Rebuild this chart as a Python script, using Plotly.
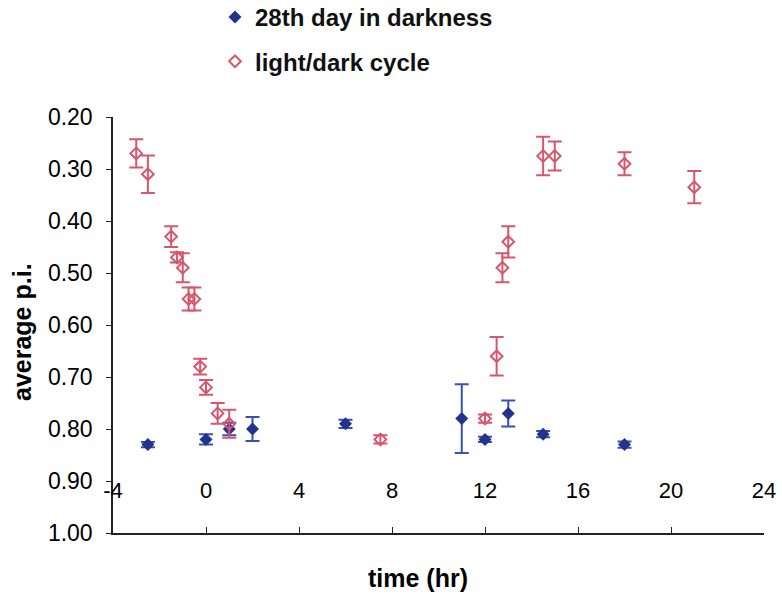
import plotly.graph_objects as go

# light/dark cycle (open diamonds)
ld_x = [-3, -2.5, -1.5, -1.25, -1, -0.75, -0.5, -0.25, 0, 0.5, 1, 7.5, 12, 12.5, 12.75, 13, 14.5, 15, 18, 21]
ld_y = [0.27, 0.31, 0.43, 0.47, 0.49, 0.55, 0.55, 0.68, 0.72, 0.77, 0.79, 0.82, 0.78, 0.66, 0.49, 0.44, 0.275, 0.275, 0.29, 0.335]
ld_err = [0.027, 0.036, 0.02, 0.01, 0.028, 0.022, 0.022, 0.015, 0.014, 0.02, 0.027, 0.008, 0.008, 0.037, 0.028, 0.03, 0.037, 0.028, 0.022, 0.031]

# 28th day in darkness (filled diamonds)
dd_x = [-2.5, 0, 1, 2, 6, 11, 12, 13, 14.5, 18]
dd_y = [0.83, 0.82, 0.80, 0.80, 0.79, 0.78, 0.82, 0.77, 0.81, 0.83]
dd_err = [0.005, 0.01, 0.012, 0.023, 0.008, 0.066, 0.005, 0.025, 0.006, 0.006]

x_ticks = [-4, 0, 4, 8, 12, 16, 20, 24]
y_ticks = [0.20, 0.30, 0.40, 0.50, 0.60, 0.70, 0.80, 0.90, 1.00]

RED = "#D6566C"
BLUE_M = "#22338C"
BLUE_E = "#3550B8"
FONT = "Liberation Sans, Arial, sans-serif"

W, H = 782, 599
L, R, T, B = 113, 18, 117, 66
PW, PH = W - L - R, H - T - B

fig = go.Figure()
fig.add_trace(go.Scatter(
    x=dd_x, y=dd_y, mode="markers", name="<b>28th day in darkness</b>",
    legendgroup="a",
    marker=dict(symbol="diamond", size=10, color=BLUE_M),
    error_y=dict(type="data", array=dd_err, color=BLUE_E, thickness=2, width=7),
))
fig.add_trace(go.Scatter(
    x=ld_x, y=ld_y, mode="markers", name="<b>light/dark cycle</b>",
    legendgroup="b",
    marker=dict(symbol="diamond-open", size=9, color=RED, line=dict(width=2, color=RED)),
    error_y=dict(type="data", array=ld_err, color=RED, thickness=2, width=7),
))
# carrier for the tick-label axis
fig.add_trace(go.Scatter(x=[], y=[], xaxis="x2", showlegend=False, hoverinfo="skip"))

pos09 = 0.10 / 0.80 + 6 / PH  # just below the 0.90 level

fig.update_layout(
    width=W, height=H,
    margin=dict(l=L, r=R, t=T, b=B, autoexpand=False),
    paper_bgcolor="white", plot_bgcolor="white",
    font=dict(family=FONT, size=22, color="black"),
    showlegend=True,
    legend=dict(x=(215 - L) / PW, y=1 + (T + 5) / PH, xanchor="left", yanchor="top",
                font=dict(size=24, color="#111"), tracegroupgap=10,
                itemsizing="trace", bgcolor="rgba(0,0,0,0)"),
    xaxis=dict(range=[-4, 24], tickvals=x_ticks, showticklabels=False,
               showline=True, linecolor="#222", linewidth=1.5,
               ticks="inside", ticklen=6, tickcolor="#222",
               showgrid=False, zeroline=False, anchor="y", automargin=False),
    xaxis2=dict(range=[-4, 24], tickvals=x_ticks, ticktext=[str(v) for v in x_ticks],
                overlaying="x", anchor="free", position=pos09,
                side="bottom", showline=False, ticks="", showgrid=False,
                zeroline=False, tickfont=dict(size=22), automargin=False),
    yaxis=dict(range=[1.0, 0.2], tickvals=y_ticks, tickformat=".2f",
               showline=True, linecolor="#222", linewidth=1.5,
               ticks="outside", ticklen=5, tickcolor="#222",
               ticklabelstandoff=9, tickfont=dict(size=23),
               showgrid=False, zeroline=False, automargin=False),
    annotations=[
        dict(text="<b>time (hr)</b>", xref="paper", yref="paper",
             x=(418 - L) / PW, y=-(578 - (H - B)) / PH,
             xanchor="center", yanchor="middle", showarrow=False,
             font=dict(size=25)),
        dict(text="<b>average p.i.</b>", xref="paper", yref="paper",
             x=-(L - 22) / PW, y=((H - B) - 332) / PH, textangle=-90,
             xanchor="center", yanchor="middle", showarrow=False,
             font=dict(size=25)),
    ],
)

# remove the browser's default 8px body margin so the figure fills the window
fig.write_html("out.html",
               config={"displayModeBar": False},
               post_script="document.body.style.margin='0';document.body.style.overflow='hidden';")
